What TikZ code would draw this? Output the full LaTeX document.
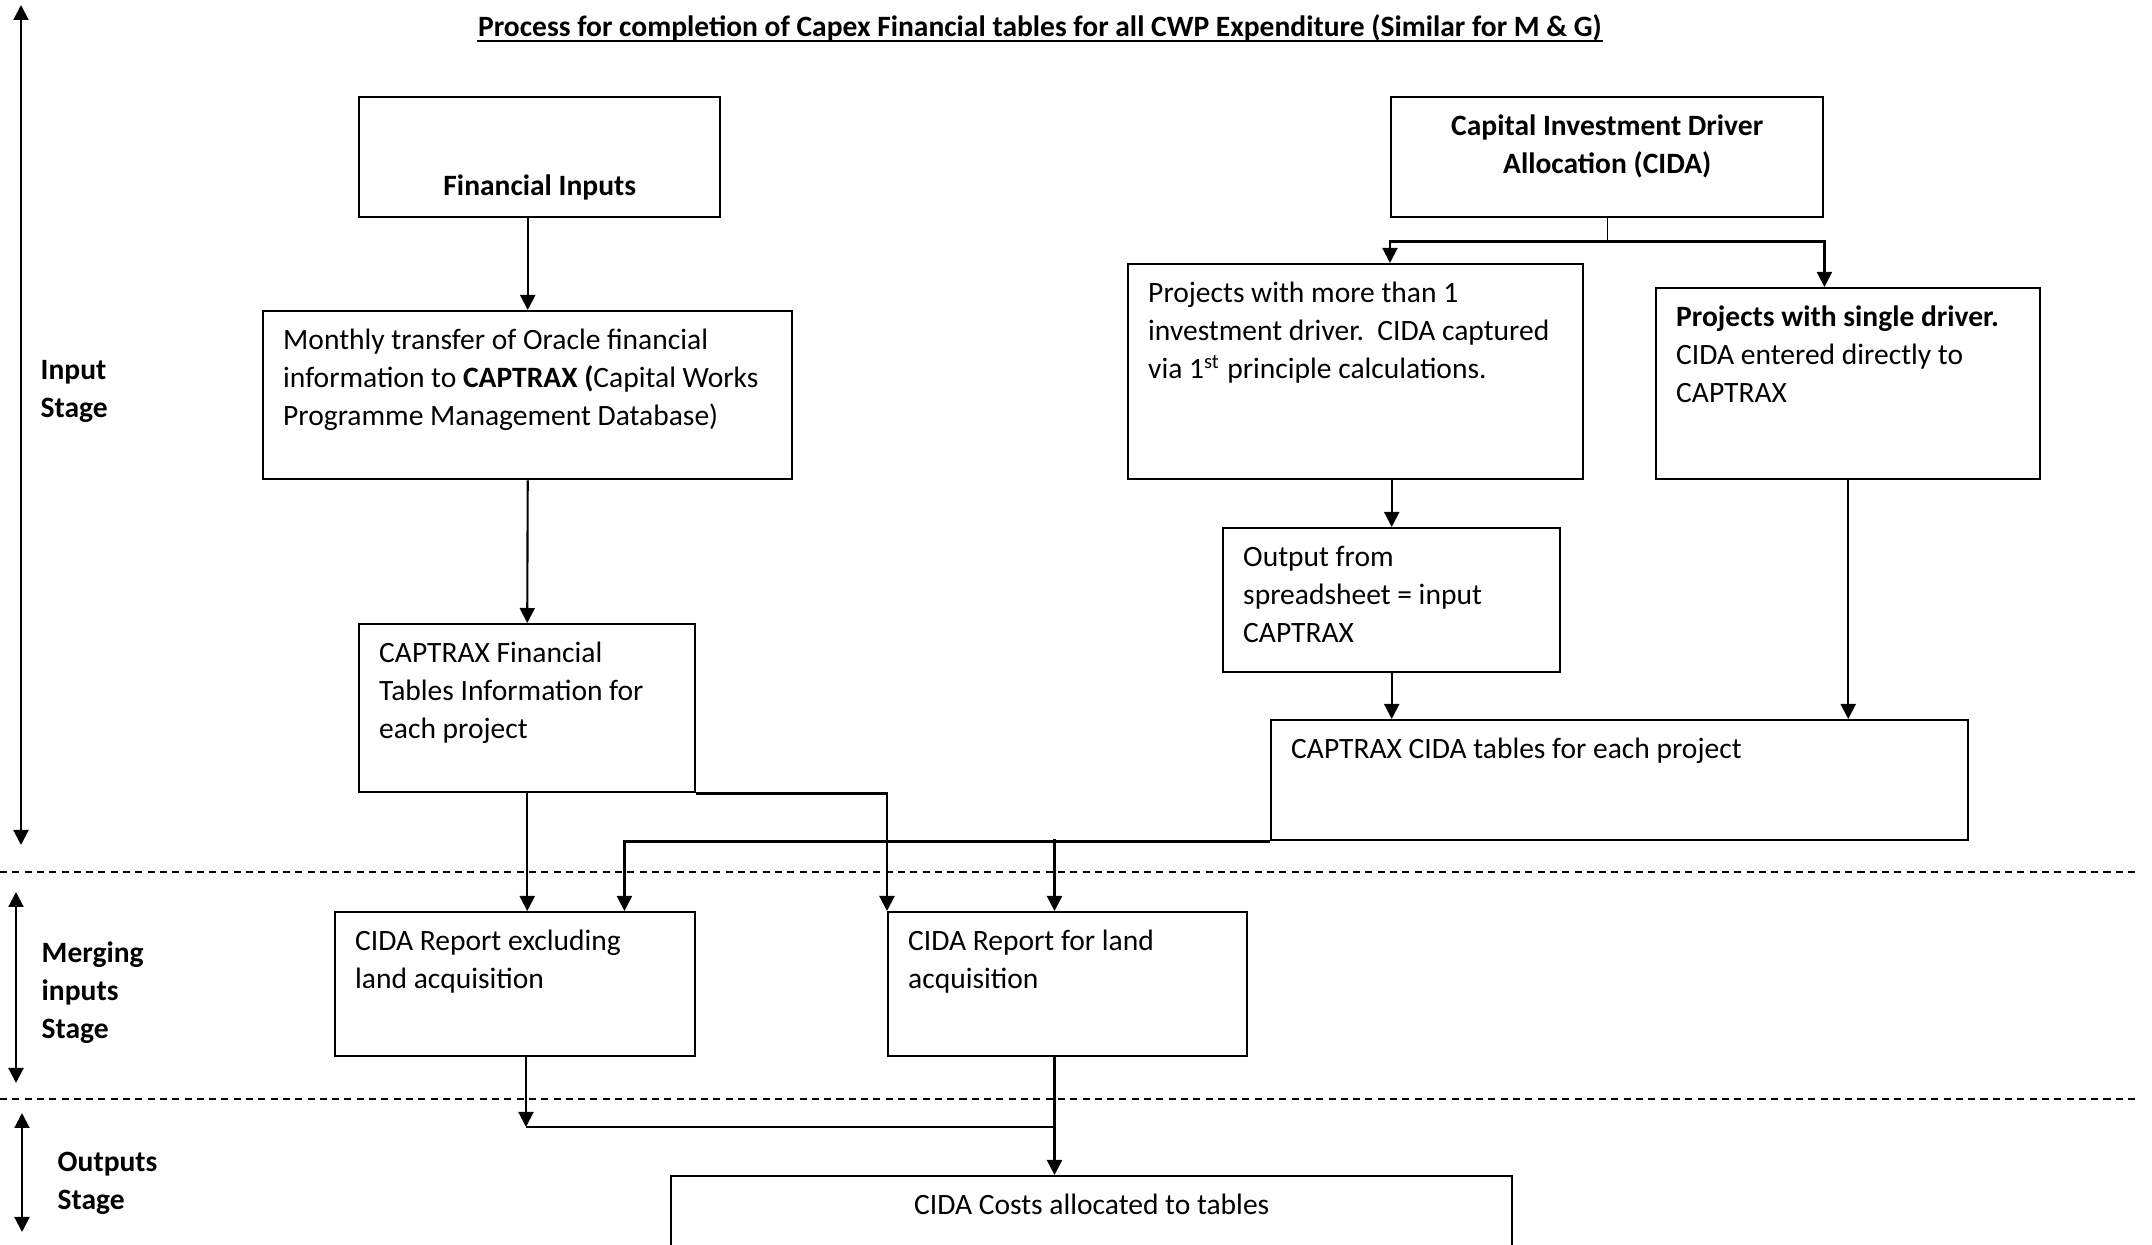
\documentclass[tikz,border=0pt]{standalone}
\usepackage{fontspec}
\setmainfont{Carlito}
\usetikzlibrary{arrows.meta, positioning}

% text block inside a box: width, height, first baseline from the top
\newcommand{\boxtext}[4][0.38cm]{\parbox[t][#3][t]{#2}{\raggedright\rule{0pt}{#1}#4}}

\begin{document}
\begin{tikzpicture}[
      every node/.style={font=\fontsize{8.4}{10.8}\selectfont},
      stepbox/.style={draw, rectangle, line width=0.7pt, anchor=north west, inner xsep=0.2cm, inner ysep=0pt},
      arrow/.style={-{Triangle[length=1.5mm, width=1.5mm]}, line width=0.6pt},
      stage_arrow/.style={{Triangle[length=1.5mm, width=1.5mm]}-{Triangle[length=1.5mm, width=1.5mm]}, line width=0.6pt},
      divider/.style={dash pattern=on 2pt off 1.5pt, line width=0.6pt},
      stage_text/.style={anchor=west, align=left, inner sep=0pt, font=\fontsize{8.4}{10.8}\selectfont\bfseries}
  ]
      \useasboundingbox (0,0) rectangle (21.52,-12.45);

      % Title
      \node[anchor=base, inner sep=0pt, font=\fontsize{8.4}{10.8}\selectfont\bfseries] (title) at (10.40,-0.37)
          {Process for completion of Capex Financial tables for all CWP Expenditure (Similar for M \& G)};
      \draw[line width=0.75pt] ([yshift=-0.04cm]title.base west) -- ([yshift=-0.04cm]title.base east);

      % Stages (left side)
      \coordinate (inTop) at (0.21,-0.05);
      \coordinate (inBot) at (0.21,-8.45);
      \coordinate (mergeTop) at (0.16,-8.92);
      \coordinate (mergeBot) at (0.16,-10.83);
      \coordinate (outTop) at (0.22,-11.13);
      \coordinate (outBot) at (0.22,-12.32);
      \draw[stage_arrow] (inTop) -- (inBot);
      \draw[stage_arrow] (mergeTop) -- (mergeBot);
      \draw[stage_arrow] (outTop) -- (outBot);
      \node[stage_text] (inputLbl) at (0.40,-3.915) {Input\\Stage};
      \node[stage_text] (mergeLbl) at (0.41,-9.93) {Merging\\inputs\\Stage};
      \node[stage_text] (outLbl) at (0.57,-11.83) {Outputs\\Stage};

      % Stage dividers
      \coordinate (divA1) at (0,-8.72);
      \coordinate (divA2) at (21.35,-8.72);
      \coordinate (divB1) at (0,-10.99);
      \coordinate (divB2) at (21.35,-10.99);
      \draw[divider] (divA1) -- (divA2);
      \draw[divider] (divB1) -- (divB2);

      % Financial branch
      \node[stepbox] (fin) at (3.58,-0.96)
          {\boxtext[0.98cm]{3.21cm}{1.20cm}{\centering\textbf{Financial Inputs}}};
      \node[stepbox] (monthly) at (2.62,-3.10)
          {\boxtext{4.89cm}{1.68cm}{Monthly transfer of Oracle financial\\information to \textbf{CAPTRAX (}Capital Works\\Programme Management Database)}};
      \node[stepbox] (capfin) at (3.58,-6.23)
          {\boxtext{2.96cm}{1.68cm}{CAPTRAX Financial\\Tables Information for\\each project}};

      % CIDA branch
      \node[stepbox] (cida) at (13.90,-0.96)
          {\boxtext{3.92cm}{1.20cm}{\centering{\bfseries Capital Investment Driver\\Allocation (CIDA)}}};
      \node[stepbox] (more) at (11.27,-2.63)
          {\boxtext{4.15cm}{2.15cm}{Projects with more than 1\\investment driver.\ \ CIDA captured\\via 1\textsuperscript{st} principle calculations.}};
      \node[stepbox] (single) at (16.55,-2.87)
          {\boxtext{3.44cm}{1.91cm}{\textbf{Projects with single driver.}\\CIDA entered directly to\\CAPTRAX}};
      \node[stepbox] (output) at (12.22,-5.27)
          {\boxtext{2.97cm}{1.44cm}{Output from\\spreadsheet = input\\CAPTRAX}};
      \node[stepbox] (tables) at (12.70,-7.19)
          {\boxtext{6.57cm}{1.20cm}{CAPTRAX CIDA tables for each project}};

      % Merging and outputs
      \node[stepbox] (excl) at (3.34,-9.11)
          {\boxtext{3.20cm}{1.44cm}{CIDA Report excluding\\land acquisition}};
      \node[stepbox] (land) at (8.87,-9.11)
          {\boxtext{3.19cm}{1.44cm}{CIDA Report for land\\acquisition}};
      \node[stepbox] (costs) at (6.70,-11.75)
          {\boxtext{8.01cm}{1.20cm}{\centering CIDA Costs allocated to tables}};

      % Connectors: financial side
      \draw[arrow] (monthly.north |- fin.south) -- (monthly.north);
      \draw[arrow] (monthly.south) -- (capfin.north);
      \draw[arrow] (capfin.south) -- (capfin.south |- excl.north);
      \draw[arrow] (capfin.south east) -| (land.north west);

      % Connectors: CIDA side
      \coordinate (split) at ([yshift=-0.23cm]cida.south);
      \draw (cida.south) -- (split);
      \draw[arrow] (split) -| (more.north -| cida.south west);
      \draw[arrow] (split) -| (single.north -| cida.south east);
      \draw[arrow] (output.north |- more.south) -- (output.north);
      \draw[arrow] (output.south) -- (output.south |- tables.north);
      \draw[arrow] (single.south) -- (single.south |- tables.north);

      % Connectors: into the reports
      \coordinate (mid) at (10.545,-8.39);
      \draw[arrow] (tables.south west) -| ([xshift=-0.72cm]excl.north east);
      \draw[arrow] (mid) -- (mid |- land.north);

      % Connectors: into the outputs
      \coordinate (mergeL) at (5.26,-11.27);
      \draw[arrow] (mergeL |- excl.south) -- (mergeL);
      \draw (mergeL) -- (mergeL -| mid);
      \draw[arrow] (mid |- land.south) -- (mid |- costs.north);
  \end{tikzpicture}
\end{document}
